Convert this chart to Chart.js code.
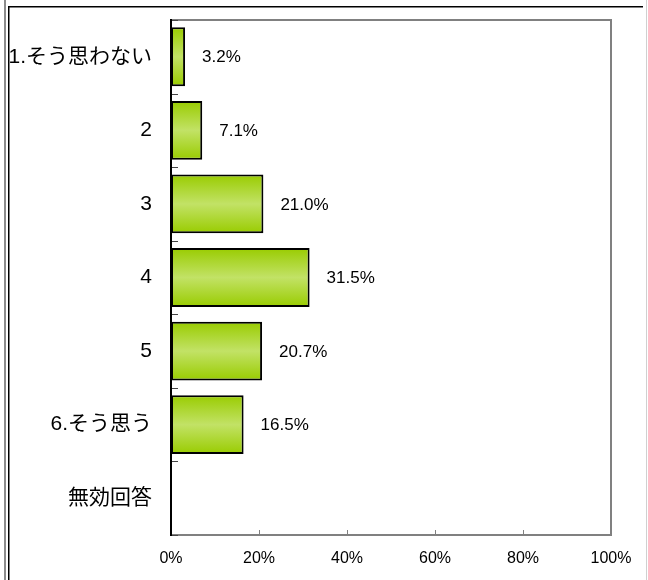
<!DOCTYPE html>
<html>
<head>
<meta charset="utf-8">
<script src="https://cdn.jsdelivr.net/npm/chart.js@4"></script>
<style>
  html, body { margin: 0; padding: 0; background: #fff; }
  canvas { display: block; }
</style>
</head>
<body>
<canvas id="barCanvas" width="648" height="580"></canvas>
<script>
const categories = ['1.そう思わない', '2', '3', '4', '5', '6.そう思う', '無効回答'];
const shares = [3.2, 7.1, 21.0, 31.5, 20.7, 16.5, 0];
const xTicks = [0, 20, 40, 60, 80, 100];

(() => {
    const canvas = document.getElementById('barCanvas');
    const fontFamily = '"Liberation Sans", "Noto Sans CJK JP", sans-serif';

    // bar fill: darker green on the edges, lighter in the middle
    const barFill = (ctx) => {
        const chart = ctx.chart;
        const y = chart.scales.y;
        if (!y || ctx.dataIndex === undefined) return '#a8d42c';
        const c = y.getPixelForValue(ctx.dataIndex);
        const h = (y.height / categories.length) * 0.8;
        if (!Number.isFinite(c) || !Number.isFinite(h) || h <= 0) return '#a8d42c';
        const g = chart.ctx.createLinearGradient(0, c - h / 2, 0, c + h / 2);
        g.addColorStop(0, '#99cc00');
        g.addColorStop(0.5, '#c2e266');
        g.addColorStop(1, '#99cc00');
        return g;
    };

    const frame = {
        id: 'frame',
        beforeDraw(chart) {
            const c = chart.ctx;
            const a = chart.chartArea;
            c.save();
            c.fillStyle = '#fff';
            c.fillRect(0, 0, chart.width, chart.height);
            // outer frame
            c.fillStyle = '#8c8c8c';
            c.fillRect(4, 0, 2, chart.height);
            c.fillStyle = '#000';
            c.fillRect(8, 6, 1.5, chart.height - 6);
            c.fillRect(8, 6, 635, 1.5);
            c.fillStyle = '#d0d0d0';
            c.fillRect(646, 0, 1, chart.height);
            // plot area border
            c.fillStyle = '#808080';
            c.fillRect(a.left, a.top - 1, a.right - a.left + 1, 2);
            c.fillRect(a.right - 1, a.top - 1, 2, a.bottom - a.top + 2);
            c.fillRect(a.left, a.bottom - 1, a.right - a.left + 1, 2);
            c.restore();
        },
        afterDatasetsDraw(chart) {
            const c = chart.ctx;
            const a = chart.chartArea;
            const x = chart.scales.x;
            const y = chart.scales.y;
            c.save();
            // category boundary ticks on the left axis
            const step = y.height / categories.length;
            c.strokeStyle = '#444';
            c.lineWidth = 1;
            for (let i = 0; i <= categories.length; i++) {
                const py = Math.round(y.getPixelForValue(i) - step / 2) + 0.5;
                c.beginPath();
                c.moveTo(a.left, py);
                c.lineTo(a.left + 7, py);
                c.stroke();
            }
            // value ticks on the bottom axis
            c.strokeStyle = '#808080';
            xTicks.slice(1, -1).forEach(v => {
                const px = Math.round(x.getPixelForValue(v)) + 0.5;
                c.beginPath();
                c.moveTo(px, a.bottom);
                c.lineTo(px, a.bottom - 5);
                c.stroke();
            });
            // left axis line
            c.fillStyle = '#000';
            c.fillRect(a.left - 1, a.top - 1, 2, a.bottom - a.top + 2);
            // value labels
            c.fillStyle = '#000';
            c.font = '17px ' + fontFamily;
            c.textAlign = 'left';
            c.textBaseline = 'middle';
            const meta = chart.getDatasetMeta(0);
            meta.data.forEach((bar, i) => {
                if (!shares[i]) return;
                c.fillText(shares[i].toFixed(1) + '%', bar.x + 17, bar.y + 1);
            });
            c.restore();
        }
    };

    new Chart(canvas, {
        type: 'bar',
        data: {
            labels: categories,
            datasets: [{
                data: shares,
                backgroundColor: barFill,
                borderColor: '#000',
                borderWidth: 2,
                borderSkipped: false,
                categoryPercentage: 1,
                barPercentage: 0.8
            }]
        },
        options: {
            indexAxis: 'y',
            responsive: false,
            animation: false,
            layout: { padding: { top: 20, right: 37, left: 0, bottom: 0 } },
            plugins: {
                legend: { display: false },
                tooltip: { enabled: false }
            },
            scales: {
                x: {
                    min: 0,
                    max: 100,
                    afterFit: s => { s.height = 45; s.paddingLeft = 0; s.paddingRight = 0; },
                    grid: { display: false, drawTicks: false },
                    border: { display: false },
                    ticks: {
                        stepSize: 20,
                        padding: 14,
                        color: '#000',
                        font: { family: fontFamily, size: 16 },
                        callback: v => v + '%'
                    }
                },
                y: {
                    afterFit: s => { s.width = 171; s.paddingTop = 0; s.paddingBottom = 0; },
                    grid: { display: false, drawTicks: false },
                    border: { display: false },
                    ticks: {
                        padding: 19,
                        color: '#000',
                        font: { family: fontFamily, size: 21 }
                    }
                }
            }
        },
        plugins: [frame]
    });
})();
</script>
</body>
</html>
